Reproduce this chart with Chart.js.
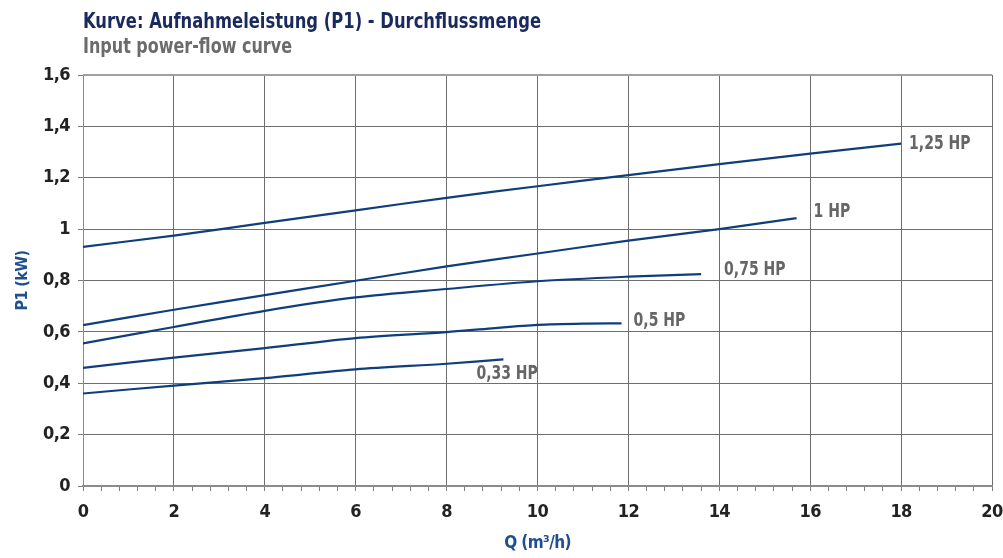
<!DOCTYPE html>
<html><head><meta charset="utf-8">
<script src="https://cdn.jsdelivr.net/npm/chart.js@4.4.0/dist/chart.umd.min.js"></script>
<style>html,body{margin:0;padding:0;background:#fff;}#wrap{width:1003px;height:558px;position:relative;}</style>
</head><body><div id="wrap"><canvas id="c" width="1003" height="558"></canvas></div>
<script>
const titleText = 'Kurve: Aufnahmeleistung (P1) - Durchflussmenge';
const subtitleText = 'Input power-flow curve';
const seriesNames = ['1,25 HP', '1 HP', '0,75 HP', '0,5 HP', '0,33 HP'];
const q125 = [0, 2, 4, 6, 8, 10, 12, 14, 16, 18];
const p125 = [0.931, 0.975, 1.024, 1.073, 1.122, 1.167, 1.21, 1.253, 1.294, 1.333];
const q100 = [0, 2, 4, 6, 8, 10, 12, 14, 15.7];
const p100 = [0.626, 0.686, 0.743, 0.799, 0.855, 0.905, 0.955, 1.0, 1.043];
const q075 = [0, 2, 4, 6, 8, 10, 12, 13.6];
const p075 = [0.555, 0.619, 0.682, 0.734, 0.767, 0.797, 0.815, 0.825];
const q050 = [0, 2, 4, 6, 8, 9, 10, 11, 11.85];
const p050 = [0.46, 0.5, 0.537, 0.576, 0.599, 0.614, 0.627, 0.632, 0.633];
const q033 = [0, 2, 4, 6, 8, 9.25];
const p033 = [0.36, 0.391, 0.42, 0.454, 0.476, 0.493];
const xMin = 0, xMax = 20, yMin = 0, yMax = 1.6;

const FONT = '"DejaVu Sans Condensed","Liberation Sans Narrow",sans-serif';
const labelOffsets = [[8, 0], [17, -6], [23, -4], [12, -2], [-27, 15]];
const allQ = [q125, q100, q075, q050, q033];
const allP = [p125, p100, p075, p050, p033];
const datasets = allQ.map((qs, i) => ({
  label: seriesNames[i],
  data: qs.map((q, j) => ({x: q, y: allP[i][j]})),
  borderColor: '#103e7c', borderWidth: 2.2, pointRadius: 0, fill: false,
  tension: 0.3
}));

const isMajorX = v => Math.abs(v / 2 - Math.round(v / 2)) < 1e-6;
const fmtY = v => { const r = Math.round(v * 10) / 10; return (Number.isInteger(r) ? String(r) : r.toFixed(1)).replace('.', ','); };

function narrowText(ctx, txt, x, y, sx) {
  ctx.save();
  ctx.translate(x, y);
  ctx.scale(sx, 1);
  ctx.fillText(txt, 0, 0);
  ctx.restore();
}

const deco = {
  id: 'deco',
  beforeDraw(chart) { chart.ctx.letterSpacing = '-0.6px'; },
  afterDatasetsDraw(chart) {
    const ctx = chart.ctx, ca = chart.chartArea;
    ctx.save();
    ctx.letterSpacing = '0px';
    ctx.strokeStyle = '#a0a0a0'; ctx.lineWidth = 2;
    ctx.beginPath(); ctx.moveTo(ca.left, ca.top); ctx.lineTo(ca.right, ca.top); ctx.stroke();
    ctx.fillStyle = '#666666';
    ctx.font = 'bold 19px ' + FONT;
    ctx.textBaseline = 'middle'; ctx.textAlign = 'left';
    chart.data.datasets.forEach((ds, i) => {
      const meta = chart.getDatasetMeta(i);
      const last = meta.data[meta.data.length - 1];
      narrowText(ctx, ds.label, last.x + labelOffsets[i][0], last.y + labelOffsets[i][1], 0.82);
    });
    ctx.textBaseline = 'alphabetic';
    ctx.fillStyle = '#1b2a5e';
    ctx.font = 'bold 22px ' + FONT;
    const tw = ctx.measureText(titleText).width;
    narrowText(ctx, titleText, ca.left, 28, 458 / tw);
    ctx.fillStyle = '#6b6b6b';
    ctx.font = 'bold 21px ' + FONT;
    const sw = ctx.measureText(subtitleText).width;
    narrowText(ctx, subtitleText, ca.left, 53, 209 / sw);
    ctx.restore();
  }
};

new Chart(document.getElementById('c'), {
  type: 'line',
  data: {datasets},
  options: {
    responsive: false, animation: false, devicePixelRatio: 1,
    layout: {padding: {top: 75, right: 11, left: 0, bottom: 0}},
    plugins: {legend: {display: false}, tooltip: {enabled: false}},
    scales: {
      x: {
        type: 'linear', min: xMin, max: xMax,
        afterFit: s => { s.height = 72; s.paddingRight = 0; s.paddingLeft = 0; },
        ticks: {stepSize: 0.4, autoSkip: false, maxRotation: 0, color: '#222', padding: 11,
          font: {family: FONT, weight: 'bold', size: 18},
          callback: v => isMajorX(v) ? String(Math.round(v)) : ''},
        grid: {color: ctx => isMajorX(ctx.tick ? ctx.tick.value : 0) ? '#6e6e6e' : 'rgba(0,0,0,0)',
          tickColor: '#7d7d7d', tickLength: 5, lineWidth: 1, drawOnChartArea: true},
        border: {color: '#8a8a8a', width: 2},
        title: {display: true, text: 'Q (m³/h)', color: '#1f4f8f', font: {family: FONT, weight: 'bold', size: 17}, padding: {top: 7}}
      },
      y: {
        min: yMin, max: yMax,
        afterFit: s => { s.width = 83; s.paddingTop = 0; s.paddingBottom = 0; },
        ticks: {stepSize: 0.2, color: '#222', padding: 8,
          font: {family: FONT, weight: 'bold', size: 18}, callback: v => fmtY(v)},
        grid: {color: '#6e6e6e', tickColor: '#7d7d7d', tickLength: 5, lineWidth: 1},
        border: {color: '#8a8a8a', width: 1},
        title: {display: true, text: 'P1 (kW)', color: '#1f4f8f', font: {family: FONT, weight: 'bold', size: 16}, padding: {top: 13, bottom: 0}}
      }
    }
  },
  plugins: [deco]
});
</script></body></html>
